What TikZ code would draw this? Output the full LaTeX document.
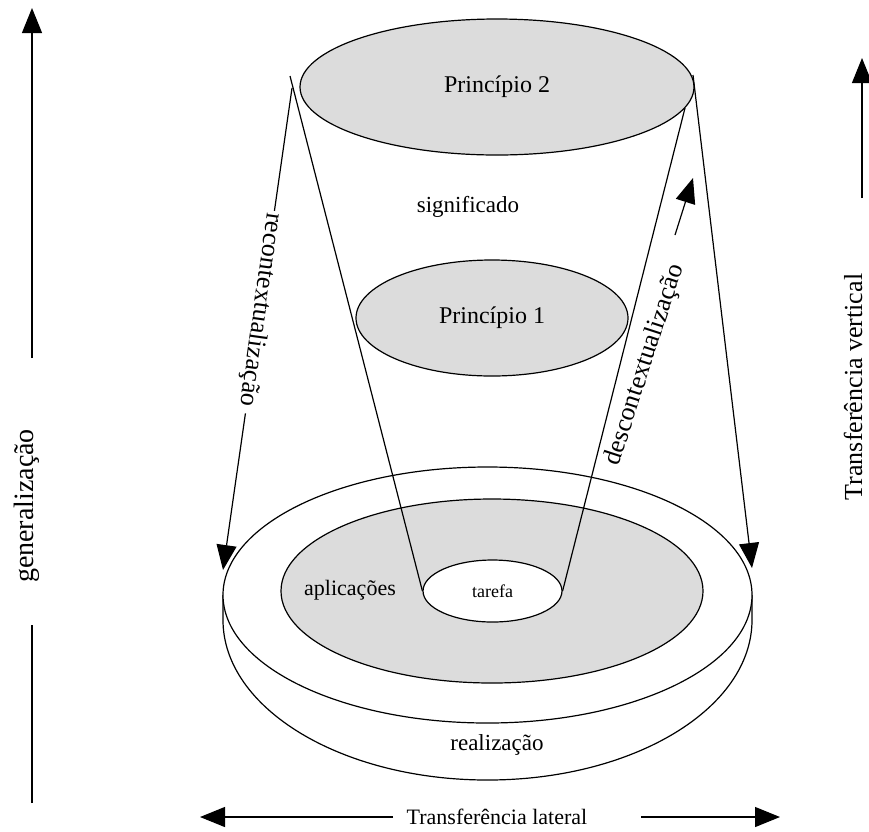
\documentclass[tikz,border=0pt]{standalone}
\usepackage{fontspec}
\setmainfont{Liberation Serif}
\usetikzlibrary{arrows.meta,calc,shapes.geometric}
\definecolor{shade}{RGB}{220,220,220}
\begin{document}
\begin{tikzpicture}[x=1pt,y=-1pt,line width=1.2pt,
  arr/.style={-{Triangle[length=25pt,width=20pt]}},
  ell/.style={ellipse,draw,inner sep=0pt},
  lbl/.style={inner sep=0pt,font=\fontsize{23}{26}\selectfont},
  sidelbl/.style={inner sep=0pt,font=\fontsize{27}{30}\selectfont}]
\useasboundingbox (0,0) rectangle (869,831);
% disc body
\draw[fill=white] (223,595) -- (223,620) arc[start angle=180,end angle=360,x radius=264.5pt,y radius=160pt] -- (752,595);
\node[ell,fill=white,minimum width=529pt,minimum height=256pt] (disc) at (487.5,595) {};
\node[ell,fill=shade,minimum width=422pt,minimum height=184pt] (apl) at (492,591) {};
\node[ell,fill=white,minimum width=139pt,minimum height=62pt,font=\fontsize{18}{20}\selectfont] (tar) at (492.5,591) {tarefa};
\node[lbl,font=\fontsize{22}{24}\selectfont] (apltxt) at (350,590) {aplicações};
\node[lbl] (real) at (497,745) {realização};
% upper ellipses
\node[ell,fill=shade,minimum width=394pt,minimum height=136pt,font=\fontsize{24}{26}\selectfont] (p2) at (497,87) {Princípio 2};
\node[ell,fill=shade,minimum width=272pt,minimum height=116pt,font=\fontsize{24}{26}\selectfont] (p1) at (492,318) {Princípio 1};
\node[lbl] (sig) at (468,207) {significado};
% cone lines
\coordinate (cl) at (290,76);
\coordinate (cr) at (685,108);
\draw (cl) -- (tar.west);
\draw (cr) -- (tar.east);
% recontextualizacao
\coordinate (rl0) at (292,88);
\coordinate (rl1) at (223,570);
\coordinate (rla) at ($(rl0)!0.255!(rl1)$);
\coordinate (rlb) at ($(rl0)!0.675!(rl1)$);
\draw (rl0) -- (rla);
\draw[arr] (rlb) -- (rl1);
\node[sidelbl,rotate=-98,font=\fontsize{26}{28}\selectfont] (rec) at ($(rl0)!0.46!(rl1)$) {recontextualização};
% right arrow
\coordinate (rr0) at (693,75);
\coordinate (rr1) at (752,568);
\draw[arr] (rr0) -- (rr1);
% descontextualizacao
\coordinate (dc0) at (675,235);
\coordinate (dc1) at (693,178);
\draw[arr] (dc0) -- (dc1);
\node[sidelbl,rotate=72,font=\fontsize{26}{28}\selectfont] (desc) at (645,365) {descontextualização};
% generalizacao
\coordinate (g0) at (32,803);
\coordinate (g1) at (32,625);
\coordinate (g2) at (32,358);
\coordinate (g3) at (32,8);
\draw (g0) -- (g1);
\draw[arr] (g2) -- (g3);
\node[sidelbl,rotate=90,font=\fontsize{28}{30}\selectfont] (gen) at (27,506) {generalização};
% transferencia vertical
\coordinate (v0) at (862,198);
\coordinate (v1) at (862,58);
\draw[arr] (v0) -- (v1);
\node[sidelbl,rotate=90,font=\fontsize{26}{28}\selectfont] (tv) at (853,387) {Transferência vertical};
% transferencia lateral
\coordinate (l0) at (393,817);
\coordinate (l1) at (200,817);
\coordinate (r0) at (641,817);
\coordinate (r1) at (780,817);
\draw[arr] (l0) -- (l1);
\draw[arr] (r0) -- (r1);
\node[lbl,font=\fontsize{22}{24}\selectfont] (tl) at (497,817) {Transferência lateral};
\end{tikzpicture}
\end{document}
